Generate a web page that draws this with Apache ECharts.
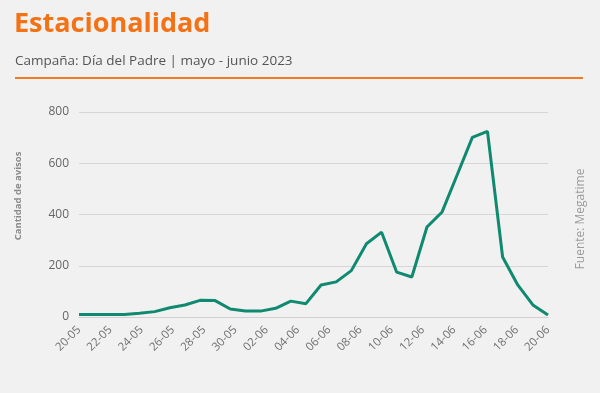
<!DOCTYPE html>
<html><head><meta charset="utf-8">
<script src="https://cdn.jsdelivr.net/npm/echarts@6/dist/echarts.min.js"></script>
<style>html,body{margin:0;padding:0;background:#f1f1f1}#c{width:600px;height:393px}</style>
</head><body><div id="c"></div>
<script>
const titleText = 'Estacionalidad';
const subtitleText = 'Campaña: Día del Padre | mayo - junio 2023';
const yAxisName = 'Cantidad de avisos';
const sourceText = 'Fuente: Megatime';
const dates = ['20-05','21-05','22-05','23-05','24-05','25-05','26-05','27-05','28-05','29-05','30-05','31-05',
  '01-06','02-06','03-06','04-06','05-06','06-06','07-06','08-06','09-06','10-06','11-06','12-06','13-06','14-06','15-06','16-06','17-06','18-06','19-06','20-06'];
const avisos = [10,10,10,10,15,21,36,47,65,64,31,23,23,34,62,52,125,137,181,286,331,175,156,351,410,555,701,724,234,125,47,8];
const tickLabels = ['20-05','22-05','24-05','26-05','28-05','30-05','02-06','04-06','06-06','08-06','10-06','12-06','14-06','16-06','18-06','20-06'];
const yMin = 0, yMax = 800, yStep = 200;

const chart = echarts.init(document.getElementById('c'));
chart.setOption({
  backgroundColor: '#f1f1f1',
  animation: false,
  title: [
    {text: titleText, left: 9, top: 6, textStyle: {fontFamily: 'Open Sans', fontWeight: 'bold', fontSize: 27, color: '#f47216'}},
    {text: subtitleText, left: 10, top: 49, textStyle: {fontFamily: 'Open Sans', fontWeight: 'normal', fontSize: 13.5, color: '#555'}}
  ],
  graphic: [
    {type: 'rect', shape: {x: 15, y: 77, width: 568, height: 2}, style: {fill: '#f47a20'}},
    {type: 'text', x: 581, y: 219, rotation: Math.PI / 2, style: {text: sourceText, font: '12px "Open Sans"', fill: '#9a9a9a', align: 'center', verticalAlign: 'middle'}},
    {type: 'text', x: 18, y: 196, rotation: Math.PI / 2, style: {text: yAxisName, font: 'bold 9.5px "Open Sans"', fill: '#8a8a8a', align: 'center', verticalAlign: 'middle'}}
  ],
  grid: {left: 79, right: 52, top: 112, bottom: 76},
  xAxis: [
    {type: 'category', data: dates, boundaryGap: false,
     axisLine: {show: true, lineStyle: {color: '#d0d0d0'}}, axisTick: {show: false}, axisLabel: {show: false}},
    {type: 'category', data: tickLabels, boundaryGap: false, position: 'bottom',
     axisLine: {show: false}, axisTick: {show: false}, splitLine: {show: false},
     axisLabel: {rotate: 45, interval: 0, margin: 11, fontFamily: 'Open Sans', fontSize: 11.5, color: '#707070'}}
  ],
  yAxis: {
    type: 'value', min: yMin, max: yMax, interval: yStep,
    axisLine: {show: false}, axisTick: {show: false},
    axisLabel: {margin: 10, fontFamily: 'Open Sans', fontSize: 12, color: '#666'},
    splitLine: {lineStyle: {color: '#d6d6d6'}}
  },
  series: [{
    type: 'line', xAxisIndex: 0, data: avisos, symbol: 'none',
    lineStyle: {color: '#0f8a70', width: 3}, itemStyle: {color: '#0f8a70'}
  }]
});
</script></body></html>
